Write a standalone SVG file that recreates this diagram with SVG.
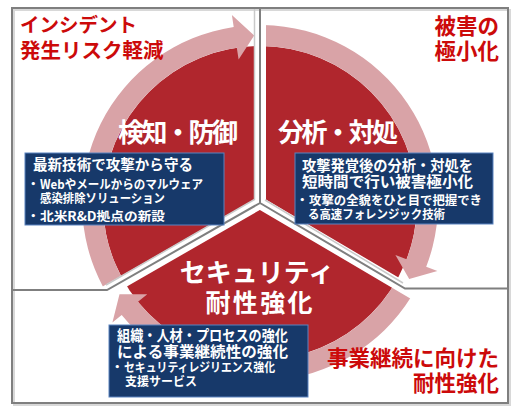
<svg xmlns="http://www.w3.org/2000/svg" width="520" height="420" viewBox="0 0 520 420">
<defs>
<style>
.f{font-family:"Noto Sans CJK JP","Noto Sans",sans-serif;font-weight:bold}
.lbl{fill:#cc0a0a}
.ttl{fill:#ffffff}
.bt{fill:#ffffff}
.box{fill:#17396a;stroke:#5b83c0;stroke-width:1}
.arrow{fill:#d9a3a7}
.band{fill:none;stroke:#ffffff;stroke-width:12}
.sep{fill:none;stroke:#7f7f7f;stroke-width:2}
.sep2{fill:none;stroke:#c9c9c9;stroke-width:1.5}
</style>
</defs>
<rect width="520" height="420" fill="#ffffff"/>
<g id="frame">
<rect x="14" y="10" width="496" height="395" fill="none" stroke="#d8d8d8" stroke-width="2"/>
<rect x="12" y="8" width="496" height="395" fill="none" stroke="#7f7f7f" stroke-width="2"/>
</g>
<g id="disk">
<circle cx="260" cy="203" r="157" fill="#b0262d"/>
</g>
<g id="connectors">
<path class="arrow" d="M103.6,287.9 A178,178 0 0 1 233.7,27.0 L231.9,15.1 L254.2,35.6 L238.6,59.6 L236.8,47.7 A157,157 0 0 0 122.0,277.9 Z"/>
<path class="arrow" d="M263.1,25.0 A178,178 0 0 1 426.2,266.8 L437.4,271.1 L409.2,279.0 L395.4,255.0 L406.6,259.3 A157,157 0 0 0 262.7,46.0 Z"/>
<path class="arrow" d="M410.9,297.3 A178,178 0 0 1 121.7,315.0 L112.4,322.6 L119.5,294.2 L147.3,294.2 L138.0,301.8 A157,157 0 0 0 393.1,286.2 Z"/>
</g>
<g id="separators">
<path class="band" d="M260,14 V203 L100,295 M260,203 L418,296"/>
<path class="sep2" d="M254.5,9 V199.5 L106,285 M265,200 L403,283"/>
<path class="sep" d="M260,8 V203 L107,290 H12 M260,203 L405,288.5 H508"/>
</g>
<g id="label-risk">
<text class="f lbl" font-size="20"><tspan x="20" y="32" font-size="19.5">インシデント</tspan><tspan x="20" y="58" font-size="20.5">発生リスク軽減</tspan></text>
</g>
<g id="label-damage">
<text class="f lbl" font-size="21.5" text-anchor="end"><tspan x="499" y="34">被害の</tspan><tspan x="499" y="59">極小化</tspan></text>
</g>
<g id="label-continuity">
<text class="f lbl" font-size="21.5" text-anchor="end"><tspan x="499" y="366">事業継続に向けた</tspan><tspan x="499" y="391">耐性強化</tspan></text>
</g>
<g id="node-detect">
<text class="f ttl" x="118" y="142" font-size="26" textLength="120" lengthAdjust="spacing">検知・防御</text>
<rect class="box" x="25" y="153" width="199" height="72"/>
<text class="f bt" font-size="12.5"><tspan x="33" y="170" font-size="14.5" textLength="160" lengthAdjust="spacingAndGlyphs">最新技術で攻撃から守る</tspan><tspan x="27" y="189">・</tspan><tspan x="40" y="189" textLength="163" lengthAdjust="spacingAndGlyphs">Webやメールからのマルウェア</tspan><tspan x="40" y="203" textLength="125" lengthAdjust="spacingAndGlyphs">感染排除ソリューション</tspan><tspan x="27" y="221">・</tspan><tspan x="40" y="221" textLength="125" lengthAdjust="spacingAndGlyphs">北米R&amp;D拠点の新設</tspan></text>
</g>
<g id="node-analyze">
<text class="f ttl" x="278" y="142" font-size="26" textLength="120" lengthAdjust="spacing">分析・対処</text>
<rect class="box" x="295" y="153" width="198" height="71"/>
<text class="f bt" font-size="12.5"><tspan x="302" y="170.5" font-size="15" textLength="171" lengthAdjust="spacingAndGlyphs">攻撃発覚後の分析・対処を</tspan><tspan x="302" y="186.5" font-size="15" textLength="171" lengthAdjust="spacingAndGlyphs">短時間で行い被害極小化</tspan><tspan x="296" y="205">・</tspan><tspan x="309" y="205" textLength="173" lengthAdjust="spacingAndGlyphs">攻撃の全貌をひと目で把握でき</tspan><tspan x="308" y="219" textLength="137" lengthAdjust="spacingAndGlyphs">る高速フォレンジック技術</tspan></text>
</g>
<g id="node-resilience">
<text class="f ttl" text-anchor="middle"><tspan x="257" y="282" font-size="26">セキュリティ</tspan><tspan x="259" y="312" font-size="25" textLength="107" lengthAdjust="spacing">耐性強化</tspan></text>
<rect class="box" x="109" y="325" width="199" height="72"/>
<text class="f bt" font-size="12.5"><tspan x="117" y="341" font-size="15" textLength="171" lengthAdjust="spacingAndGlyphs">組織・人材・プロセスの強化</tspan><tspan x="117" y="357" font-size="15" textLength="171" lengthAdjust="spacingAndGlyphs">による事業継続性の強化</tspan><tspan x="111" y="372">・</tspan><tspan x="124" y="372" textLength="151" lengthAdjust="spacingAndGlyphs">セキュリティレジリエンス強化</tspan><tspan x="125" y="386" textLength="72" lengthAdjust="spacingAndGlyphs">支援サービス</tspan></text>
</g>
</svg>
